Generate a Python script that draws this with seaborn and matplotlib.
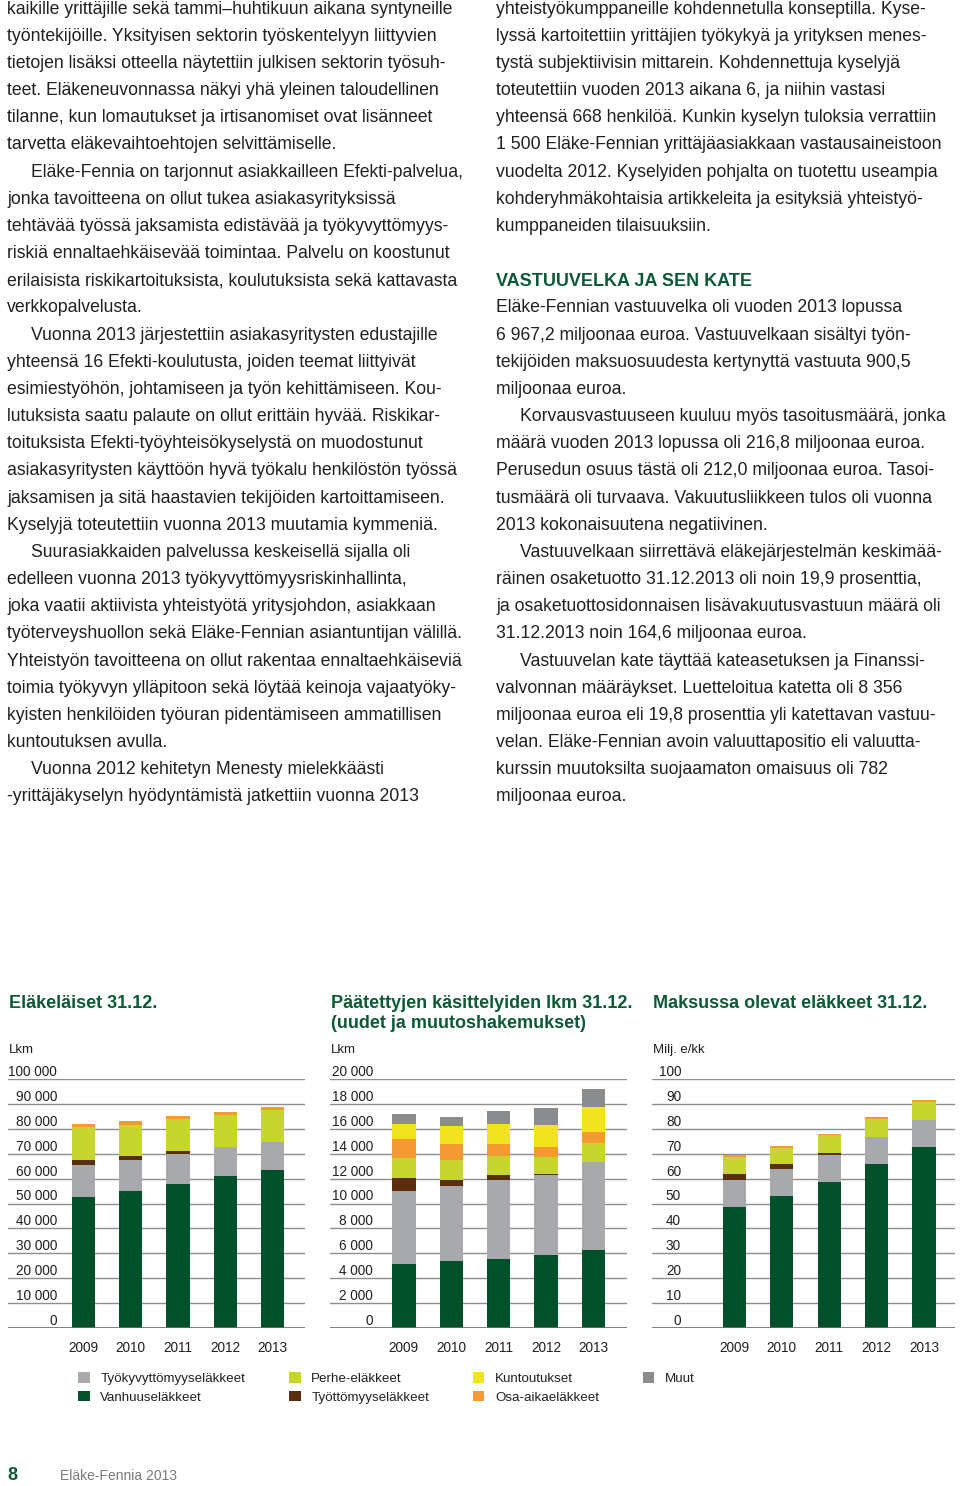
import numpy as np
import pandas as pd
import matplotlib
matplotlib.use("Agg")
import matplotlib.pyplot as plt
from matplotlib.patches import Patch
import seaborn as sns

# ---- data -------------------------------------------------------------
vuodet = ["2009", "2010", "2011", "2012", "2013"]

# Eläkeläiset 31.12. (lkm)
elakelaiset = {
    "Vanhuuseläkkeet": [52600, 55200, 58000, 60900, 63600],
    "Työkyvyttömyyseläkkeet": [13000, 12100, 12000, 11800, 11100],
    "Työttömyyseläkkeet": [2000, 1600, 900, 0, 0],
    "Perhe-eläkkeet": [13000, 12800, 12900, 12800, 13000],
    "Osa-aikaeläkkeet": [1200, 1600, 1300, 1100, 900],
}

# Päätettyjen käsittelyiden lkm 31.12.
kasittelyt = {
    "Vanhuuseläkkeet": [5170, 5380, 5520, 5890, 6240],
    "Työkyvyttömyyseläkkeet": [5830, 6050, 6340, 6370, 7090],
    "Työttömyyseläkkeet": [1050, 480, 430, 110, 0],
    "Perhe-eläkkeet": [1580, 1610, 1550, 1340, 1500],
    "Osa-aikaeläkkeet": [1570, 1230, 970, 830, 940],
    "Kuntoutukset": [1190, 1450, 1600, 1760, 2010],
    "Muut": [800, 720, 1050, 1400, 1440],
}

# Maksussa olevat eläkkeet 31.12. (milj. e/kk)
maksussa = {
    "Vanhuuseläkkeet": [48.5, 53.1, 58.6, 66.0, 72.8],
    "Työkyvyttömyyseläkkeet": [11.1, 10.9, 10.9, 10.8, 10.9],
    "Työttömyyseläkkeet": [2.4, 1.7, 0.9, 0, 0],
    "Perhe-eläkkeet": [6.7, 6.5, 7.0, 7.1, 7.1],
    "Osa-aikaeläkkeet": [0.6, 0.9, 0.6, 0.7, 0.8],
}

varit = {
    "Vanhuuseläkkeet": "#00502a",
    "Työkyvyttömyyseläkkeet": "#a7a9ac",
    "Työttömyyseläkkeet": "#5a2d0c",
    "Perhe-eläkkeet": "#c6d530",
    "Osa-aikaeläkkeet": "#f59a32",
    "Kuntoutukset": "#f1e41c",
    "Muut": "#8b8c8e",
}

vasen_teksti = [
    (0, "kaikille yrittäjille sekä tammi–huhtikuun aikana syntyneille"),
    (0, "työntekijöille. Yksityisen sektorin työskentelyyn liittyvien"),
    (0, "tietojen lisäksi otteella näytettiin julkisen sektorin työsuh-"),
    (0, "teet. Eläkeneuvonnassa näkyi yhä yleinen taloudellinen"),
    (0, "tilanne, kun lomautukset ja irtisanomiset ovat lisänneet"),
    (0, "tarvetta eläkevaihtoehtojen selvittämiselle."),
    (1, "Eläke-Fennia on tarjonnut asiakkailleen Efekti-palvelua,"),
    (0, "jonka tavoitteena on ollut tukea asiakasyrityksissä"),
    (0, "tehtävää työssä jaksamista edistävää ja työkyvyttömyys-"),
    (0, "riskiä ennaltaehkäisevää toimintaa. Palvelu on koostunut"),
    (0, "erilaisista riskikartoituksista, koulutuksista sekä kattavasta"),
    (0, "verkkopalvelusta."),
    (1, "Vuonna 2013 järjestettiin asiakasyritysten edustajille"),
    (0, "yhteensä 16 Efekti-koulutusta, joiden teemat liittyivät"),
    (0, "esimiestyöhön, johtamiseen ja työn kehittämiseen. Kou-"),
    (0, "lutuksista saatu palaute on ollut erittäin hyvää. Riskikar-"),
    (0, "toituksista Efekti-työyhteisökyselystä on muodostunut"),
    (0, "asiakasyritysten käyttöön hyvä työkalu henkilöstön työssä"),
    (0, "jaksamisen ja sitä haastavien tekijöiden kartoittamiseen."),
    (0, "Kyselyjä toteutettiin vuonna 2013 muutamia kymmeniä."),
    (1, "Suurasiakkaiden palvelussa keskeisellä sijalla oli"),
    (0, "edelleen vuonna 2013 työkyvyttömyysriskinhallinta,"),
    (0, "joka vaatii aktiivista yhteistyötä yritysjohdon, asiakkaan"),
    (0, "työterveyshuollon sekä Eläke-Fennian asiantuntijan välillä."),
    (0, "Yhteistyön tavoitteena on ollut rakentaa ennaltaehkäiseviä"),
    (0, "toimia työkyvyn ylläpitoon sekä löytää keinoja vajaatyöky-"),
    (0, "kyisten henkilöiden työuran pidentämiseen ammatillisen"),
    (0, "kuntoutuksen avulla."),
    (1, "Vuonna 2012 kehitetyn Menesty mielekkäästi"),
    (0, "-yrittäjäkyselyn hyödyntämistä jatkettiin vuonna 2013"),
]

oikea_teksti = [
    (0, "yhteistyökumppaneille kohdennetulla konseptilla. Kyse-"),
    (0, "lyssä kartoitettiin yrittäjien työkykyä ja yrityksen menes-"),
    (0, "tystä subjektiivisin mittarein. Kohdennettuja kyselyjä"),
    (0, "toteutettiin vuoden 2013 aikana 6, ja niihin vastasi"),
    (0, "yhteensä 668 henkilöä. Kunkin kyselyn tuloksia verrattiin"),
    (0, "1 500 Eläke-Fennian yrittäjäasiakkaan vastausaineistoon"),
    (0, "vuodelta 2012. Kyselyiden pohjalta on tuotettu useampia"),
    (0, "kohderyhmäkohtaisia artikkeleita ja esityksiä yhteistyö-"),
    (0, "kumppaneiden tilaisuuksiin."),
    (0, ""),
    (2, "VASTUUVELKA JA SEN KATE"),
    (0, "Eläke-Fennian vastuuvelka oli vuoden 2013 lopussa"),
    (0, "6 967,2 miljoonaa euroa. Vastuuvelkaan sisältyi työn-"),
    (0, "tekijöiden maksuosuudesta kertynyttä vastuuta 900,5"),
    (0, "miljoonaa euroa."),
    (1, "Korvausvastuuseen kuuluu myös tasoitusmäärä, jonka"),
    (0, "määrä vuoden 2013 lopussa oli 216,8 miljoonaa euroa."),
    (0, "Perusedun osuus tästä oli 212,0 miljoonaa euroa. Tasoi-"),
    (0, "tusmäärä oli turvaava. Vakuutusliikkeen tulos oli vuonna"),
    (0, "2013 kokonaisuutena negatiivinen."),
    (1, "Vastuuvelkaan siirrettävä eläkejärjestelmän keskimää-"),
    (0, "räinen osaketuotto 31.12.2013 oli noin 19,9 prosenttia,"),
    (0, "ja osaketuottosidonnaisen lisävakuutusvastuun määrä oli"),
    (0, "31.12.2013 noin 164,6 miljoonaa euroa."),
    (1, "Vastuuvelan kate täyttää kateasetuksen ja Finanssi-"),
    (0, "valvonnan määräykset. Luetteloitua katetta oli 8 356"),
    (0, "miljoonaa euroa eli 19,8 prosenttia yli katettavan vastuu-"),
    (0, "velan. Eläke-Fennian avoin valuuttapositio eli valuutta-"),
    (0, "kurssin muutoksilta suojaamaton omaisuus oli 782"),
    (0, "miljoonaa euroa."),
]

# ---- style --------------------------------------------------------------
sns.set_style("white")
plt.rcParams["font.family"] = ["Liberation Sans", "DejaVu Sans"]

W, H = 960, 1486
fig = plt.figure(figsize=(W / 100, H / 100), dpi=100)

teksti_vari = "#231f20"
vihrea = "#0b5a35"


def px(x, y):
    return x / W, 1 - y / H


# ---- body text ----------------------------------------------------------
rivivali = 27.17
for sarake_x, rivit in [(7, vasen_teksti), (496, oikea_teksti)]:
    for i, (tyyppi, rivi) in enumerate(rivit):
        y = 9 + i * rivivali
        if tyyppi == 2:
            fig.text(*px(sarake_x, y + 1), rivi, fontsize=13, fontweight="bold",
                     color=vihrea, va="center", ha="left")
        else:
            x = sarake_x + (24 if tyyppi == 1 else 0)
            fig.text(*px(x, y), rivi, fontsize=12.7, color=teksti_vari,
                     va="center", ha="left")


# ---- charts -------------------------------------------------------------
def pinottu_kuva(ax, data, ymax, ystep, yfmt, xlim, pad):
    df = pd.DataFrame(data, index=vuodet)
    kum = df.cumsum(axis=1)
    # draw from the top layer down so the lower ones cover the rest
    for sarja in reversed(df.columns):
        sns.barplot(x=vuodet, y=kum[sarja].values, color=varit[sarja],
                    saturation=1, width=0.49, errorbar=None, linewidth=0,
                    ax=ax)
    ax.set_ylim(0, ymax)
    ax.set_xlim(*xlim)
    ticks = np.arange(0, ymax + ystep / 2, ystep)
    ax.set_yticks(ticks)
    ax.set_yticklabels([yfmt(t) for t in ticks], va="bottom")
    ax.tick_params(axis="y", length=0, pad=pad, labelsize=9.8,
                   labelcolor=teksti_vari)
    ax.tick_params(axis="x", length=0, pad=9, labelsize=9.8,
                   labelcolor=teksti_vari)
    ax.grid(axis="y", color="#8e8e8e", linewidth=1.0)
    ax.set_axisbelow(True)
    for s in ax.spines.values():
        s.set_visible(False)
    ax.axhline(0, color="#6e6e6e", linewidth=1.2, zorder=5)
    ax.set_xlabel("")
    ax.set_ylabel("")


def tuhannet(v):
    v = int(round(v))
    return "0" if v == 0 else f"{v:,}".replace(",", " ")


ylh, yala = 1079, 1328
kaaviot = [
    (8, 297, elakelaiset, 100000, 10000, tuhannet, (-1.60, 4.69), -35.3,
     ["Eläkeläiset 31.12."], "Lkm"),
    (330, 297, kasittelyt, 20000, 2000, tuhannet, (-1.56, 4.71), -31.0,
     ["Päätettyjen käsittelyiden lkm 31.12.", "(uudet ja muutoshakemukset)"], "Lkm"),
    (652, 303, maksussa, 100, 10, lambda v: f"{int(v)}", (-1.73, 4.65), -20.9,
     ["Maksussa olevat eläkkeet 31.12."], "Milj. e/kk"),
]

for x0, lev, data, ymax, ystep, fmt, xlim, pad, otsikko, yksikko in kaaviot:
    ax = fig.add_axes([x0 / W, (H - yala) / H, lev / W, (yala - ylh) / H])
    pinottu_kuva(ax, data, ymax, ystep, fmt, xlim, pad)
    for j, rivi in enumerate(otsikko):
        fig.text(*px(x0 + 1, 1003 + j * 21), rivi, fontsize=13,
                 fontweight="bold", color=vihrea, va="center", ha="left")
    fig.text(*px(x0 + 1, 1050), yksikko, fontsize=9.5, color=teksti_vari,
             va="center", ha="left")

# ---- legend -------------------------------------------------------------
jarjestys = ["Työkyvyttömyyseläkkeet", "Vanhuuseläkkeet", "Perhe-eläkkeet",
             "Työttömyyseläkkeet", "Kuntoutukset", "Osa-aikaeläkkeet", "Muut"]
kahvat = [Patch(facecolor=varit[n], edgecolor="none") for n in jarjestys]
fig.legend(kahvat, jarjestys, ncol=4, loc="upper left",
           bbox_to_anchor=px(73, 1367), frameon=False, fontsize=9.6,
           handlelength=0.85, handleheight=0.85, handletextpad=0.8,
           columnspacing=3.3, labelspacing=0.4, borderaxespad=0,
           labelcolor=teksti_vari)

# ---- footer -------------------------------------------------------------
fig.text(*px(7, 1476), "8", fontsize=13, fontweight="bold", color=vihrea,
         va="center", ha="left")
fig.text(*px(60, 1476), "Eläke-Fennia 2013", fontsize=10, color="#7a7a7a",
         va="center", ha="left")

fig.savefig("out.png", dpi=100)
